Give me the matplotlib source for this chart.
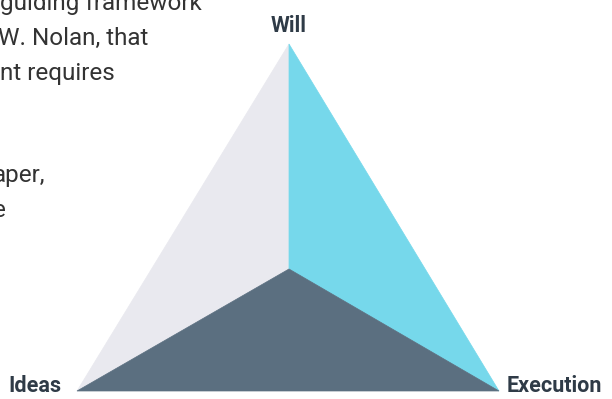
import matplotlib.pyplot as plt
from matplotlib.patches import Polygon

# vertices of the triangle (pixel space, y down) and the inner point
labels = ['Will', 'Ideas', 'Execution']
vertex_x = [289, 77, 499]
vertex_y = [44, 391, 391]
center_x = 289
center_y = 269
face_colors = ['#E9E9EF', '#76D8EB', '#5B6F80']  # left, right, bottom

# clipped paragraph from the page behind the chart
body_lines = ['guiding framework', 'W. Nolan, that', 'nt requires', '', '', 'aper,', 'e']
body_right = [202, 148, 115, 0, 0, 45, 6]
body_base = [10, 45, 80, 0, 0, 182, 217]

fig = plt.figure(figsize=(6.12, 3.99), dpi=100)
ax = fig.add_axes([0, 0, 1, 1])
ax.set_xlim(0, 612)
ax.set_ylim(399, 0)
ax.axis('off')

c = (center_x, center_y)
top = (vertex_x[0], vertex_y[0])
left = (vertex_x[1], vertex_y[1])
right = (vertex_x[2], vertex_y[2])

faces = [[top, c, left], [top, right, c], [c, right, left]]
for pts, col in zip(faces, face_colors):
    ax.add_patch(Polygon(pts, closed=True, facecolor=col, edgecolor=col, linewidth=0.5))

font = ['Roboto', 'DejaVu Sans']
lab_col = '#2F3B47'
ax.text(vertex_x[0], vertex_y[0] - 12, labels[0], ha='center', va='baseline',
        fontsize=15.5, fontweight='bold', color=lab_col, family=font)
ax.text(vertex_x[1] - 15, vertex_y[1] + 1, labels[1], ha='right', va='baseline',
        fontsize=15.5, fontweight='bold', color=lab_col, family=font)
ax.text(vertex_x[2] + 8, vertex_y[2] + 1, labels[2], ha='left', va='baseline',
        fontsize=15.5, fontweight='bold', color=lab_col, family=font)

for line, xr, yb in zip(body_lines, body_right, body_base):
    if line:
        ax.text(xr, yb, line, ha='right', va='baseline', fontsize=17.5,
                color='#333333', family=font)

fig.savefig('out.png', dpi=100)
